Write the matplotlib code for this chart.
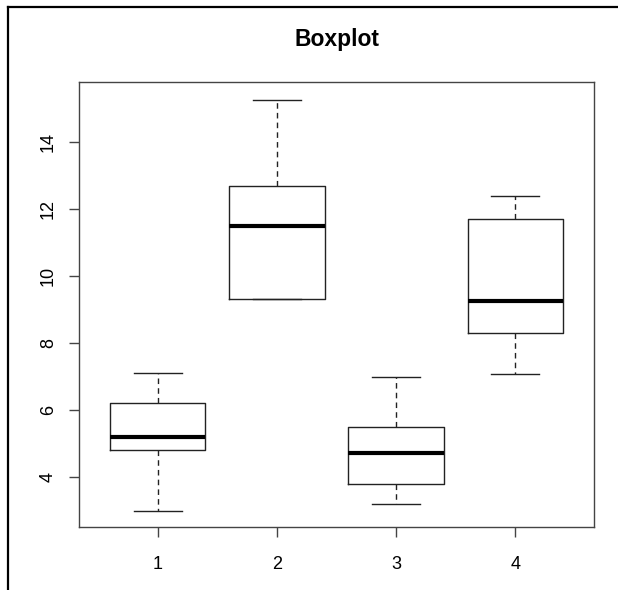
import matplotlib
matplotlib.use("Agg")
import matplotlib.pyplot as plt
from matplotlib.lines import Line2D

plt.rcParams["font.family"] = ["Liberation Sans", "DejaVu Sans"]

# box statistics
positions = [1, 2, 3, 4]
whislo = [3.0, 9.3, 3.2, 7.07]
q1 = [4.8, 9.3, 3.8, 8.3]
med = [5.2, 11.5, 4.72, 9.25]
q3 = [6.2, 12.7, 5.5, 11.7]
whishi = [7.1, 15.25, 7.0, 12.38]
yticks = [4, 6, 8, 10, 12, 14]

stats = [
    {"whislo": lo, "q1": a, "med": m, "q3": b, "whishi": hi, "fliers": []}
    for lo, a, m, b, hi in zip(whislo, q1, med, q3, whishi)
]

fig = plt.figure(figsize=(6.18, 5.9), dpi=100)
ax = fig.add_axes([79 / 618, 1 - 527 / 590, (594 - 79) / 618, (527 - 82) / 590])

ax.bxp(stats, positions=positions, widths=0.8, showfliers=False,
       boxprops=dict(color="#222222", linewidth=1),
       whiskerprops=dict(color="#222222", linewidth=1, linestyle=(0, (4, 3))),
       capprops=dict(color="#222222", linewidth=1),
       medianprops=dict(color="black", linewidth=3),
       capwidths=0.4)

ax.set_xlim(0.34, 4.66)
ax.set_ylim(2.51, 15.79)
ax.set_xticks(positions)
ax.set_xticklabels([str(p) for p in positions], fontsize=13)
ax.set_yticks(yticks)
ax.set_yticklabels([str(t) for t in yticks], fontsize=13, rotation=90, va="center")
ax.tick_params(direction="out", length=7, width=1, color="#444444")
ax.tick_params(axis="x", pad=14)
ax.tick_params(axis="y", pad=9)
for s in ax.spines.values():
    s.set_color("#444444")
    s.set_linewidth(1)

ax.set_title("Boxplot", fontsize=16.5, fontweight="bold", pad=26)

# outer frame (top and left edges only)
fig.add_artist(Line2D([8 / 618, 8 / 618], [0, 1 - 7 / 590], color="black", lw=1.6,
                      transform=fig.transFigure))
fig.add_artist(Line2D([8 / 618, 1], [1 - 7 / 590, 1 - 7 / 590], color="black", lw=1.6,
                      transform=fig.transFigure))

fig.savefig("out.png", dpi=100)
